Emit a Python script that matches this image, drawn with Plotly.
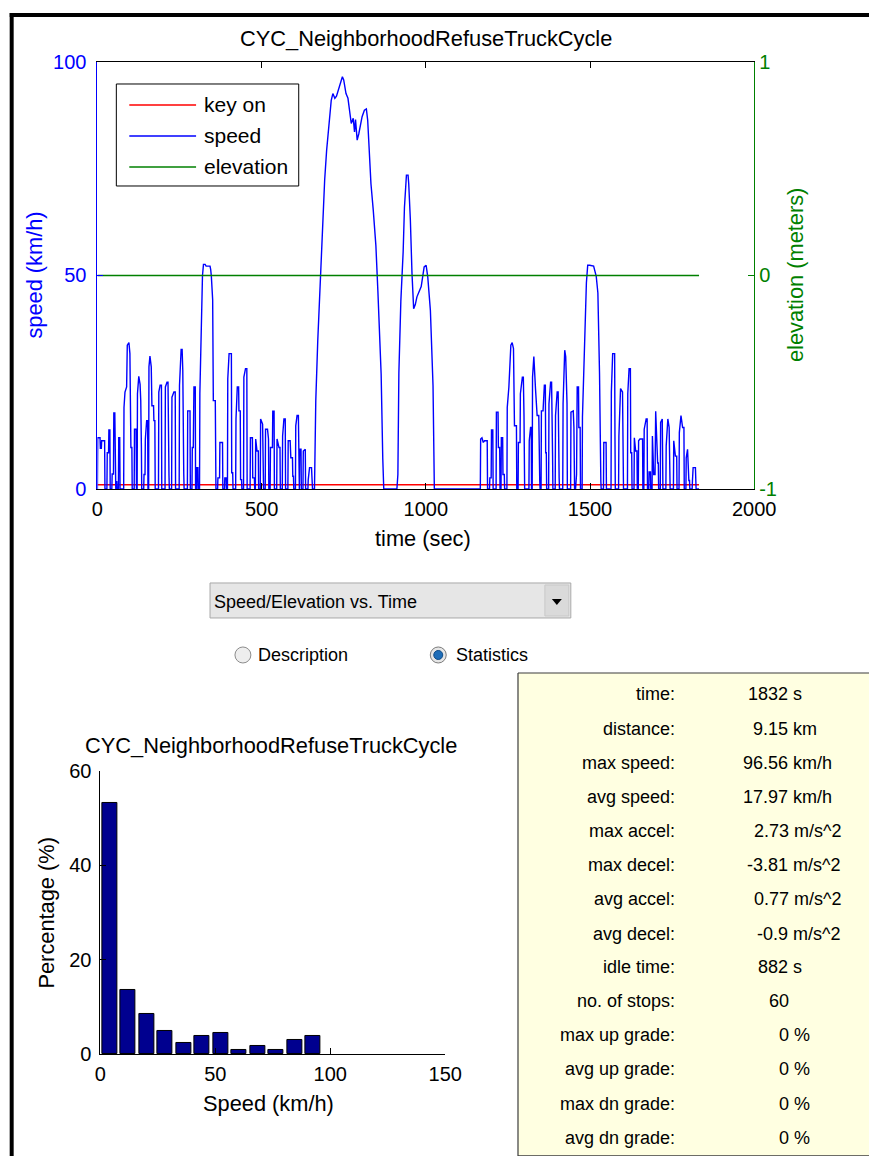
import plotly.graph_objects as go

W, H = 869, 1156

# The photographed page comes out slightly scaled/offset; positions below are
# given in reference-picture pixels and mapped onto the paper here.
SX, AX = 0.971, 4.3
SY, AY = 0.981, 10.0


def px(x):
    return ((x - AX) / SX) / W


def py(y):
    return 1 - ((y - AY) / SY) / H


FONT = "Liberation Sans, Arial, sans-serif"
BLUE = "#0000FF"
RED = "#FF0000"
GREEN = "#008000"

title_text = "CYC_NeighborhoodRefuseTruckCycle"

# ---- speed trace (time s, speed km/h) ----
speed_points = [
    (0, 0), (1, 12), (8, 12), (9, 9.5), (12, 9.5), (13, 11.3), (22, 11.3), (23, 0),
    (29, 0), (30, 8.5), (34, 8.5), (35, 13.8), (38, 13.8), (39, 0),
    (44, 0), (45, 3.5), (49, 3.5), (50, 17.8), (53, 17.8), (54, 0),
    (56, 0), (57, 1.7), (59, 1.7), (60, 0),
    (64, 0), (65, 12), (68, 12), (69, 0),
    (80, 0), (81, 19.1), (84, 22.7), (89, 23.9), (91, 33.7), (96, 34.3), (99, 31.7), (102, 9.7), (105, 9.7), (106, 0),
    (112, 0), (113, 14), (118, 14), (119, 0),
    (121, 0), (122, 22.3), (126, 26.4), (130, 24.5), (132, 20.7), (134, 9.7), (135, 0),
    (141, 0), (142, 3.4), (145, 3.4), (146, 11.7), (150, 16), (153, 16), (154, 0),
    (156, 0), (157, 28.6), (160, 31.1), (164, 28.6), (166, 19.5), (171, 19.5), (172, 16), (175, 16), (176, 0),
    (186, 0), (187, 22.7), (191, 24.3), (195, 24.3), (196, 0),
    (206, 0), (207, 23.9), (212, 25), (215, 25), (216, 3.2), (218, 3.2), (219, 0),
    (226, 0), (227, 21.5), (233, 22.7), (237, 22.7), (238, 0),
    (249, 0), (250, 24.3), (255, 32.7), (258, 32.7), (260, 27.8), (261, 3.5), (263, 3.5), (264, 0),
    (274, 0), (275, 18.3), (282, 18.3), (283, 0), (288, 0), (289, 9.7), (292, 9.7), (294, 23.9), (298, 23.9), (299, 0),
    (302, 0), (303, 5), (306, 5), (307, 0),
    (311, 0), (312, 22.3), (316, 39), (320, 50), (323, 52.6), (328, 52.6), (331, 52.2), (343, 52.2),
    (345, 51.4), (347, 49.8), (351, 44.3), (353, 20.7), (359, 20.7), (361, 0),
    (366, 0), (367, 2.6), (372, 2.6), (373, 10.9), (381, 10.9), (382, 0),
    (387, 0), (388, 2.6), (392, 2.6), (393, 0),
    (396, 0), (397, 25.8), (401, 31.7), (408, 31.7), (409, 3.8), (412, 3.8), (413, 0),
    (421, 0), (422, 16.4), (426, 23.9), (430, 23.9), (431, 18.3), (435, 18.3), (436, 2.2), (439, 2.2), (440, 0),
    (445, 0), (446, 26.2), (451, 28.2), (455, 28.2), (456, 0),
    (465, 0), (466, 12), (472, 12), (473, 2.6), (478, 2.6), (479, 0),
    (481, 0), (482, 11.7), (486, 8.9), (490, 8.9), (491, 0),
    (496, 0), (497, 16.4), (503, 15.2), (506, 0),
    (511, 0), (512, 14), (518, 14), (519, 11.7), (521, 11.7), (522, 0),
    (526, 0), (527, 9.7), (533, 9.7), (534, 18.2), (538, 18.2), (539, 0),
    (546, 0), (547, 11.7), (553, 9.7), (556, 9.7), (557, 0),
    (563, 0), (564, 12.4), (568, 16.4), (572, 16.4), (573, 0),
    (580, 0), (581, 11.3), (587, 11.3), (589, 7.3), (594, 7.3), (595, 3), (597, 3), (598, 0),
    (603, 0), (604, 14.8), (608, 17.2), (612, 17.2), (613, 0), (615, 0), (616, 9.3), (620, 9.3), (621, 0),
    (626, 0), (627, 8.9), (633, 9.3), (634, 0),
    (641, 0), (642, 2.2), (646, 5), (652, 5), (653, 2.2), (655, 0),
    (661, 0), (665, 20.7), (671, 34.7), (677, 45.3), (683, 56.3), (687, 65.3), (692, 72.3), (698, 79.3),
    (703, 84), (708, 88), (712, 91), (717, 92.6), (723, 91.5), (728, 92), (732, 93), (738, 94.6),
    (746, 96.56), (750, 95.8), (757, 92.6), (763, 91.5), (768, 88), (773, 85.6), (779, 86.8), (783, 83.6),
    (786, 86.5), (791, 81.7), (796, 83.2), (801, 85), (806, 87.2), (813, 88.7), (819, 89), (823, 86.4),
    (828, 77), (833, 71.5), (840, 65.3), (848, 57), (854, 46.5), (860, 34.4), (864, 27), (869, 7), (872, 0),
    (912, 0), (913, 3.4), (915, 3.4), (918, 27.3), (924, 44), (931, 55.5), (935, 66), (941, 73.5), (946, 73.5),
    (948, 71.5), (953, 63), (958, 50.4), (963, 42.2), (968, 43.2), (973, 45), (981, 46.5), (986, 47.4),
    (995, 52), (1001, 52.4), (1006, 49.6), (1014, 41.8), (1022, 24.2), (1026, 0),
    (1166, 0), (1167, 11.7), (1171, 12), (1175, 10.9), (1179, 11.3), (1187, 11.3), (1188, 0),
    (1194, 0), (1195, 2.6), (1199, 2.6), (1200, 13.8), (1204, 13.8), (1205, 0),
    (1214, 0), (1215, 18), (1220, 18), (1221, 9.7), (1225, 9.7), (1226, 0),
    (1229, 0), (1230, 12), (1234, 12), (1235, 3.4), (1239, 3.4), (1240, 0),
    (1247, 0), (1248, 19.1), (1253, 23.9), (1259, 33.7), (1263, 34.3), (1267, 32.9), (1270, 14.8), (1276, 14.8), (1277, 0),
    (1281, 0), (1282, 10.9), (1287, 10.9), (1288, 22.3), (1294, 26.2), (1297, 26.2), (1299, 17.2), (1301, 0),
    (1314, 0), (1315, 11.3), (1319, 14.4), (1321, 14.4), (1322, 0),
    (1324, 0), (1325, 26.2), (1329, 31), (1334, 23.5), (1339, 17.2), (1344, 17.2), (1345, 1.8), (1347, 1.8), (1348, 0),
    (1351, 0), (1352, 18.3), (1357, 18.3), (1361, 24.3), (1364, 24.3), (1365, 8.5), (1367, 8.5), (1368, 0),
    (1374, 0), (1375, 19.9), (1380, 25), (1383, 25), (1384, 8), (1386, 8), (1387, 0),
    (1394, 0), (1395, 17.2), (1400, 22.7), (1403, 22.7), (1404, 2.6), (1406, 2.6), (1407, 0),
    (1417, 0), (1418, 20), (1423, 32.5), (1426, 31), (1428, 20), (1430, 20), (1431, 0),
    (1441, 0), (1442, 18), (1449, 18.3), (1451, 14.4), (1453, 0), (1456, 0), (1457, 3.4), (1459, 3.4),
    (1461, 23.9), (1465, 23.9), (1466, 14.4), (1470, 14.4), (1471, 0),
    (1476, 0), (1477, 16.8), (1484, 36.5), (1489, 48.3), (1493, 52.4), (1499, 52.4), (1511, 52.2),
    (1514, 51.4), (1519, 49.8), (1524, 45.9), (1529, 27), (1533, 1.8), (1534, 0),
    (1541, 0), (1542, 10.9), (1549, 10.9), (1550, 0),
    (1564, 0), (1565, 22.7), (1569, 31.7), (1575, 31.7), (1576, 12.4), (1577, 0),
    (1587, 0), (1588, 12.4), (1593, 23.5), (1599, 22.7), (1602, 0),
    (1614, 0), (1615, 22.3), (1619, 28.2), (1623, 28.2), (1624, 8.5), (1627, 8.5), (1628, 0),
    (1634, 0), (1635, 12), (1639, 8.9), (1643, 8.9), (1644, 0),
    (1647, 0), (1648, 11.3), (1652, 11.7), (1660, 11.7), (1661, 0),
    (1664, 0), (1665, 14), (1671, 16.4), (1674, 16.4), (1675, 0), (1679, 0), (1680, 4), (1684, 4), (1685, 0),
    (1689, 0), (1690, 12.4), (1694, 3.4), (1698, 3.4), (1700, 18.2), (1706, 6.1), (1708, 6.1), (1709, 0),
    (1714, 0), (1715, 15.6), (1720, 16.4), (1722, 0),
    (1731, 0), (1732, 10.1), (1737, 16.4), (1741, 14.4), (1744, 0),
    (1754, 0), (1755, 11.3), (1760, 7.7), (1764, 7.7), (1765, 0),
    (1771, 0), (1772, 13.2), (1777, 17.2), (1782, 14.4), (1786, 14.4), (1787, 0),
    (1792, 0), (1793, 7.3), (1797, 9.3), (1801, 2), (1803, 2), (1804, 0),
    (1811, 0), (1812, 2), (1814, 5), (1821, 5), (1823, 0), (1832, 0),
]
time_s = [p[0] for p in speed_points]
speed_kmh = [p[1] for p in speed_points]

key_on_time = [0, 1832]
key_on_kmh = [1, 1]
elev_time = [0, 1832]
elev_m = [0, 0]

x_ticks_time = [0, 500, 1000, 1500, 2000]
y_ticks_speed = [0, 50, 100]
y_ticks_elev = [-1, 0, 1]
y_ticks_elev_text = ["-1", "0", "1"]

# ---- histogram ----
hist_centers = [4.02, 12.07, 20.12, 28.16, 36.21, 44.26, 52.31, 60.35, 68.40, 76.45, 84.49, 92.54]
hist_pct = [53.3, 13.55, 8.47, 4.94, 2.4, 3.81, 4.52, 0.92, 1.69, 0.92, 3.03, 3.81]
hist_bin_width = 8.05
hist_x_ticks = [0, 50, 100, 150]
hist_y_ticks = [0, 20, 40, 60]

# ---- statistics panel ----
stat_labels = ["time:", "distance:", "max speed:", "avg speed:", "max accel:", "max decel:",
               "avg accel:", "avg decel:", "idle time:", "no. of stops:", "max up grade:",
               "avg up grade:", "max dn grade:", "avg dn grade:"]
stat_values = ["1832 s", "9.15 km", "96.56 km/h", "17.97 km/h", "2.73 m/s^2", "-3.81 m/s^2",
               "0.77 m/s^2", "-0.9 m/s^2", "882 s", "60", "0 %", "0 %", "0 %", "0 %"]
stat_value_x = [747, 752, 742, 742, 753, 746, 753, 756, 757, 768, 778, 778, 778, 778]

legend_labels = ["key on", "speed", "elevation"]
legend_colors = [RED, BLUE, GREEN]

LBL = 21.8   # titles / axis labels
TCK = 20     # tick labels
LEG = 21     # legend text
GUI = 18     # widget / statistics text

fig = go.Figure()
fig.add_trace(go.Scatter(x=key_on_time, y=key_on_kmh, mode="lines", name="key on",
                         line=dict(color=RED, width=1.4), xaxis="x", yaxis="y", showlegend=False))
fig.add_trace(go.Scatter(x=time_s, y=speed_kmh, mode="lines", name="speed",
                         line=dict(color=BLUE, width=1.4), xaxis="x", yaxis="y", showlegend=False))
fig.add_trace(go.Scatter(x=elev_time, y=elev_m, mode="lines", name="elevation",
                         line=dict(color=GREEN, width=1.4), xaxis="x", yaxis="y2", showlegend=False))
fig.add_trace(go.Bar(x=hist_centers, y=hist_pct, width=0.8 * hist_bin_width,
                     marker=dict(color="#00008F", line=dict(color="black", width=1)),
                     xaxis="x2", yaxis="y3", showlegend=False))

tickfont = dict(family=FONT, size=TCK, color="black")

top_x_dom = [px(96), px(755)]
top_y_dom = [py(488), py(61)]
hist_x_dom = [px(99), px(445)]
hist_y_dom = [py(1053), py(770)]

fig.update_layout(
    width=W, height=H,
    autosize=False,
    margin=dict(l=0, r=0, t=0, b=0),
    paper_bgcolor="white", plot_bgcolor="white",
    showlegend=False,
    font=dict(family=FONT, size=TCK, color="black"),
    bargap=0,
    xaxis=dict(domain=top_x_dom, range=[0, 2000], tickvals=x_ticks_time, ticks="inside", ticklen=6,
               tickcolor="black", showline=True, linecolor="black", linewidth=1, mirror="ticks",
               showgrid=False, zeroline=False, tickfont=tickfont, anchor="y", ticklabelstandoff=2),
    yaxis=dict(domain=top_y_dom, range=[0, 100], tickvals=y_ticks_speed, ticks="inside", ticklen=6,
               tickcolor=BLUE, showline=True, linecolor=BLUE, linewidth=1, showgrid=False, zeroline=False,
               tickfont=dict(family=FONT, size=TCK, color=BLUE), anchor="x", ticklabelstandoff=6),
    yaxis2=dict(domain=top_y_dom, range=[-1, 1], tickvals=y_ticks_elev, ticktext=y_ticks_elev_text,
                ticks="inside", ticklen=6,
                tickcolor=GREEN, showline=True, linecolor=GREEN, linewidth=1, showgrid=False,
                zeroline=False, overlaying="y", side="right", anchor="x",
                tickfont=dict(family=FONT, size=TCK, color=GREEN), ticklabelstandoff=0),
    xaxis2=dict(domain=hist_x_dom, range=[0, 150], tickvals=hist_x_ticks, ticks="inside", ticklen=6,
                tickcolor="black", showline=True, linecolor="black", linewidth=1, showgrid=False,
                zeroline=False, anchor="y3", tickfont=tickfont, ticklabelstandoff=2),
    yaxis3=dict(domain=hist_y_dom, range=[0, 60], tickvals=hist_y_ticks, ticks="inside", ticklen=6,
                tickcolor="black", showline=True, linecolor="black", linewidth=1, showgrid=False,
                zeroline=False, anchor="x2", tickfont=tickfont, ticklabelstandoff=4),
)

shapes = []
annotations = []


def ann(x, y, text, size=LBL, color="black", xanchor="center", angle=0):
    annotations.append(dict(x=px(x), y=py(y), xref="paper", yref="paper", text=text, showarrow=False,
                            xanchor=xanchor, yanchor="middle", textangle=angle,
                            font=dict(family=FONT, size=size, color=color)))


def rect(x0, y0, x1, y1, fill, line="rgba(0,0,0,0)", lw=0, layer="above"):
    shapes.append(dict(type="rect", xref="paper", yref="paper", x0=px(x0), x1=px(x1), y0=py(y1), y1=py(y0),
                       fillcolor=fill, line=dict(color=line, width=lw), layer=layer))


def seg(x0, y0, x1, y1, color, lw=1):
    shapes.append(dict(type="line", xref="paper", yref="paper", x0=px(x0), x1=px(x1), y0=py(y0), y1=py(y1),
                       line=dict(color=color, width=lw), layer="above"))


def circle(cx, cy, r, fill, line, lw=1):
    shapes.append(dict(type="circle", xref="paper", yref="paper", x0=px(cx - r), x1=px(cx + r),
                       y0=py(cy + r), y1=py(cy - r), fillcolor=fill, line=dict(color=line, width=lw),
                       layer="above"))


# window frame (top and left edges)
rect(8, 12, 875, 16, "black")
rect(8, 12, 12, 1170, "black")

# top chart texts
ann(425.5, 38, title_text)
ann(423, 538, "time (sec)")
ann(33, 274, "speed (km/h)", color=BLUE, angle=-90)
ann(797, 274, "elevation (meters)", color=GREEN, angle=-90)

# legend box
rect(115, 83, 298, 185, "white", "black", 1)
legend_rows = [104, 135, 166]
for lab, col, yy in zip(legend_labels, legend_colors, legend_rows):
    seg(128, yy, 195, yy, col, 1.4)
    ann(201, yy, lab, size=LEG, xanchor="left")

# dropdown
rect(209, 582, 571, 617, "#E6E6E6", "#A8A8A8", 1)
rect(545, 584, 569, 615, "#DADADA", "#C8C8C8", 1)
shapes.append(dict(type="path", xref="paper", yref="paper",
                   path=f"M {px(552)} {py(598)} L {px(562)} {py(598)} L {px(557)} {py(604)} Z",
                   fillcolor="black", line=dict(color="black", width=0), layer="above"))
ann(211, 601, "Speed/Elevation vs. Time", size=GUI, xanchor="left")

# radio buttons
circle(242, 654, 8, "#EEEEEE", "#8C8C8C", 1)
circle(438, 654, 8, "#E6E6E6", "#7C7C7C", 1)
circle(438, 654, 4.5, "#1E6DB8", "#0E4A86", 1)
ann(255, 654, "Description", size=GUI, xanchor="left")
ann(454, 654, "Statistics", size=GUI, xanchor="left")

# histogram texts
ann(270, 745, title_text)
ann(268, 1103, "Speed (km/h)")
ann(45, 912, "Percentage (%)", angle=-90)

# statistics panel (right edge runs off the window)
rect(518, 672, 880, 1155, "#FFFFE1")
seg(518, 672, 880, 672, "#3C3C3C", 1.2)
seg(518, 672, 518, 1155, "#3C3C3C", 1.2)
seg(518, 1155, 880, 1155, "#3C3C3C", 1.2)
row_y = [693.3, 727.7, 761.7, 796, 830, 864, 898.3, 932.7, 966, 1000, 1034.3, 1068.3, 1102.7, 1136.7]
for lab, val, vx, yy in zip(stat_labels, stat_values, stat_value_x, row_y):
    ann(678, yy, lab, size=GUI, xanchor="right")
    ann(vx, yy, val, size=GUI, xanchor="left")

fig.update_layout(shapes=shapes, annotations=annotations)
fig.write_html("out.html", config={"displayModeBar": False})
